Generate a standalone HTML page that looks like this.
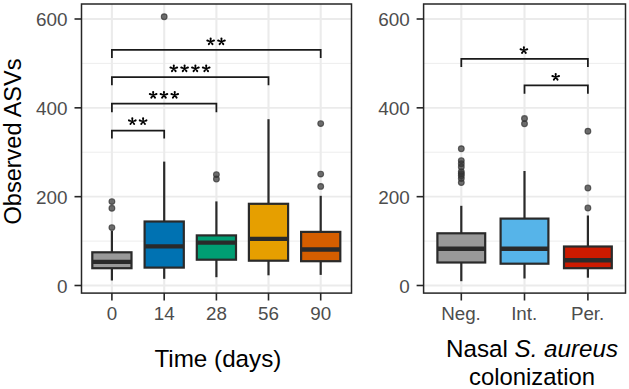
<!DOCTYPE html>
<html><head><meta charset="utf-8"><style>
html,body{margin:0;padding:0;background:#fff;overflow:hidden}
svg{display:block;font-family:"Liberation Sans",sans-serif}
</style></head><body>
<svg width="629" height="389" viewBox="0 0 629 389">
<rect x="0" y="0" width="629" height="389" fill="#fff"/>
<line x1="81.5" x2="351.5" y1="241.08" y2="241.08" stroke="#EBEBEB" stroke-width="0.9"/>
<line x1="81.5" x2="351.5" y1="152.25" y2="152.25" stroke="#EBEBEB" stroke-width="0.9"/>
<line x1="81.5" x2="351.5" y1="63.42" y2="63.42" stroke="#EBEBEB" stroke-width="0.9"/>
<line x1="81.5" x2="351.5" y1="285.50" y2="285.50" stroke="#EBEBEB" stroke-width="1.8"/>
<line x1="81.5" x2="351.5" y1="196.67" y2="196.67" stroke="#EBEBEB" stroke-width="1.8"/>
<line x1="81.5" x2="351.5" y1="107.83" y2="107.83" stroke="#EBEBEB" stroke-width="1.8"/>
<line x1="81.5" x2="351.5" y1="19.00" y2="19.00" stroke="#EBEBEB" stroke-width="1.8"/>
<line x1="111.9" x2="111.9" y1="4.0" y2="293.1" stroke="#EBEBEB" stroke-width="2.1"/>
<line x1="164.2" x2="164.2" y1="4.0" y2="293.1" stroke="#EBEBEB" stroke-width="2.1"/>
<line x1="216.4" x2="216.4" y1="4.0" y2="293.1" stroke="#EBEBEB" stroke-width="2.1"/>
<line x1="268.5" x2="268.5" y1="4.0" y2="293.1" stroke="#EBEBEB" stroke-width="2.1"/>
<line x1="320.7" x2="320.7" y1="4.0" y2="293.1" stroke="#EBEBEB" stroke-width="2.1"/>
<line x1="423.6" x2="625.5" y1="241.08" y2="241.08" stroke="#EBEBEB" stroke-width="0.9"/>
<line x1="423.6" x2="625.5" y1="152.25" y2="152.25" stroke="#EBEBEB" stroke-width="0.9"/>
<line x1="423.6" x2="625.5" y1="63.42" y2="63.42" stroke="#EBEBEB" stroke-width="0.9"/>
<line x1="423.6" x2="625.5" y1="285.50" y2="285.50" stroke="#EBEBEB" stroke-width="1.8"/>
<line x1="423.6" x2="625.5" y1="196.67" y2="196.67" stroke="#EBEBEB" stroke-width="1.8"/>
<line x1="423.6" x2="625.5" y1="107.83" y2="107.83" stroke="#EBEBEB" stroke-width="1.8"/>
<line x1="423.6" x2="625.5" y1="19.00" y2="19.00" stroke="#EBEBEB" stroke-width="1.8"/>
<line x1="461.3" x2="461.3" y1="4.0" y2="293.1" stroke="#EBEBEB" stroke-width="2.1"/>
<line x1="524.5" x2="524.5" y1="4.0" y2="293.1" stroke="#EBEBEB" stroke-width="2.1"/>
<line x1="587.9" x2="587.9" y1="4.0" y2="293.1" stroke="#EBEBEB" stroke-width="2.1"/>
<line x1="111.9" x2="111.9" y1="231.0" y2="252.3" stroke="#2a2a2a" stroke-width="2.2"/>
<line x1="111.9" x2="111.9" y1="268.2" y2="280.5" stroke="#2a2a2a" stroke-width="2.2"/>
<rect x="92.30000000000001" y="252.3" width="39.2" height="15.899999999999977" fill="#999999" stroke="#2a2a2a" stroke-width="2.2"/>
<line x1="92.30000000000001" x2="131.5" y1="261.9" y2="261.9" stroke="#2a2a2a" stroke-width="4.4"/>
<circle cx="111.9" cy="201.6" r="2.85" fill="#333" fill-opacity="0.7" stroke="#333" stroke-opacity="0.72" stroke-width="1.2"/>
<circle cx="111.9" cy="208.3" r="2.85" fill="#333" fill-opacity="0.7" stroke="#333" stroke-opacity="0.72" stroke-width="1.2"/>
<circle cx="111.9" cy="227.6" r="2.85" fill="#333" fill-opacity="0.7" stroke="#333" stroke-opacity="0.72" stroke-width="1.2"/>
<line x1="164.2" x2="164.2" y1="161.6" y2="221.5" stroke="#2a2a2a" stroke-width="2.2"/>
<line x1="164.2" x2="164.2" y1="267.6" y2="278.8" stroke="#2a2a2a" stroke-width="2.2"/>
<rect x="144.6" y="221.5" width="39.2" height="46.10000000000002" fill="#0072B2" stroke="#2a2a2a" stroke-width="2.2"/>
<line x1="144.6" x2="183.79999999999998" y1="246.4" y2="246.4" stroke="#2a2a2a" stroke-width="4.4"/>
<circle cx="164.2" cy="16.7" r="2.85" fill="#333" fill-opacity="0.7" stroke="#333" stroke-opacity="0.72" stroke-width="1.2"/>
<line x1="216.4" x2="216.4" y1="201.4" y2="235.4" stroke="#2a2a2a" stroke-width="2.2"/>
<line x1="216.4" x2="216.4" y1="259.7" y2="277.2" stroke="#2a2a2a" stroke-width="2.2"/>
<rect x="196.8" y="235.4" width="39.2" height="24.299999999999983" fill="#009E73" stroke="#2a2a2a" stroke-width="2.2"/>
<line x1="196.8" x2="236.0" y1="242.6" y2="242.6" stroke="#2a2a2a" stroke-width="4.4"/>
<circle cx="216.4" cy="174.6" r="2.85" fill="#333" fill-opacity="0.7" stroke="#333" stroke-opacity="0.72" stroke-width="1.2"/>
<circle cx="216.4" cy="179.0" r="2.85" fill="#333" fill-opacity="0.7" stroke="#333" stroke-opacity="0.72" stroke-width="1.2"/>
<line x1="268.5" x2="268.5" y1="119.2" y2="203.8" stroke="#2a2a2a" stroke-width="2.2"/>
<line x1="268.5" x2="268.5" y1="260.7" y2="275.3" stroke="#2a2a2a" stroke-width="2.2"/>
<rect x="248.9" y="203.8" width="39.2" height="56.89999999999998" fill="#E69F00" stroke="#2a2a2a" stroke-width="2.2"/>
<line x1="248.9" x2="288.1" y1="238.9" y2="238.9" stroke="#2a2a2a" stroke-width="4.4"/>
<line x1="320.7" x2="320.7" y1="195.8" y2="231.9" stroke="#2a2a2a" stroke-width="2.2"/>
<line x1="320.7" x2="320.7" y1="261.2" y2="274.9" stroke="#2a2a2a" stroke-width="2.2"/>
<rect x="301.09999999999997" y="231.9" width="39.2" height="29.299999999999983" fill="#D55E00" stroke="#2a2a2a" stroke-width="2.2"/>
<line x1="301.09999999999997" x2="340.3" y1="249.5" y2="249.5" stroke="#2a2a2a" stroke-width="4.4"/>
<circle cx="320.7" cy="123.6" r="2.85" fill="#333" fill-opacity="0.7" stroke="#333" stroke-opacity="0.72" stroke-width="1.2"/>
<circle cx="320.7" cy="174.1" r="2.85" fill="#333" fill-opacity="0.7" stroke="#333" stroke-opacity="0.72" stroke-width="1.2"/>
<circle cx="320.7" cy="186.4" r="2.85" fill="#333" fill-opacity="0.7" stroke="#333" stroke-opacity="0.72" stroke-width="1.2"/>
<line x1="461.3" x2="461.3" y1="205.8" y2="233.3" stroke="#2a2a2a" stroke-width="2.2"/>
<line x1="461.3" x2="461.3" y1="262.5" y2="281.2" stroke="#2a2a2a" stroke-width="2.2"/>
<rect x="437.40000000000003" y="233.3" width="47.8" height="29.19999999999999" fill="#999999" stroke="#2a2a2a" stroke-width="2.2"/>
<line x1="437.40000000000003" x2="485.2" y1="248.8" y2="248.8" stroke="#2a2a2a" stroke-width="4.4"/>
<circle cx="461.3" cy="148.7" r="2.85" fill="#333" fill-opacity="0.7" stroke="#333" stroke-opacity="0.72" stroke-width="1.2"/>
<circle cx="461.3" cy="160.6" r="2.85" fill="#333" fill-opacity="0.7" stroke="#333" stroke-opacity="0.72" stroke-width="1.2"/>
<circle cx="461.3" cy="163.8" r="2.85" fill="#333" fill-opacity="0.7" stroke="#333" stroke-opacity="0.72" stroke-width="1.2"/>
<circle cx="461.3" cy="167.0" r="2.85" fill="#333" fill-opacity="0.7" stroke="#333" stroke-opacity="0.72" stroke-width="1.2"/>
<circle cx="461.3" cy="171.8" r="2.85" fill="#333" fill-opacity="0.7" stroke="#333" stroke-opacity="0.72" stroke-width="1.2"/>
<circle cx="461.3" cy="173.8" r="2.85" fill="#333" fill-opacity="0.7" stroke="#333" stroke-opacity="0.72" stroke-width="1.2"/>
<circle cx="461.3" cy="175.8" r="2.85" fill="#333" fill-opacity="0.7" stroke="#333" stroke-opacity="0.72" stroke-width="1.2"/>
<circle cx="461.3" cy="178.6" r="2.85" fill="#333" fill-opacity="0.7" stroke="#333" stroke-opacity="0.72" stroke-width="1.2"/>
<circle cx="461.3" cy="182.6" r="2.85" fill="#333" fill-opacity="0.7" stroke="#333" stroke-opacity="0.72" stroke-width="1.2"/>
<line x1="524.5" x2="524.5" y1="171.0" y2="218.6" stroke="#2a2a2a" stroke-width="2.2"/>
<line x1="524.5" x2="524.5" y1="263.7" y2="278.5" stroke="#2a2a2a" stroke-width="2.2"/>
<rect x="500.6" y="218.6" width="47.8" height="45.099999999999994" fill="#56B4E9" stroke="#2a2a2a" stroke-width="2.2"/>
<line x1="500.6" x2="548.4" y1="248.8" y2="248.8" stroke="#2a2a2a" stroke-width="4.4"/>
<circle cx="524.5" cy="118.5" r="2.85" fill="#333" fill-opacity="0.7" stroke="#333" stroke-opacity="0.72" stroke-width="1.2"/>
<circle cx="524.5" cy="123.7" r="2.85" fill="#333" fill-opacity="0.7" stroke="#333" stroke-opacity="0.72" stroke-width="1.2"/>
<line x1="587.9" x2="587.9" y1="215.5" y2="246.5" stroke="#2a2a2a" stroke-width="2.2"/>
<line x1="587.9" x2="587.9" y1="268.2" y2="277.7" stroke="#2a2a2a" stroke-width="2.2"/>
<rect x="564.0" y="246.5" width="47.8" height="21.69999999999999" fill="#CC1A00" stroke="#2a2a2a" stroke-width="2.2"/>
<line x1="564.0" x2="611.8" y1="260.3" y2="260.3" stroke="#2a2a2a" stroke-width="4.4"/>
<circle cx="587.9" cy="131.2" r="2.85" fill="#333" fill-opacity="0.7" stroke="#333" stroke-opacity="0.72" stroke-width="1.2"/>
<circle cx="587.9" cy="188.0" r="2.85" fill="#333" fill-opacity="0.7" stroke="#333" stroke-opacity="0.72" stroke-width="1.2"/>
<circle cx="587.9" cy="208.0" r="2.85" fill="#333" fill-opacity="0.7" stroke="#333" stroke-opacity="0.72" stroke-width="1.2"/>
<rect x="81.5" y="4.0" width="270.0" height="289.1" fill="none" stroke="#262626" stroke-width="1.5"/>
<line x1="74.5" x2="81.5" y1="285.50" y2="285.50" stroke="#262626" stroke-width="1.6"/>
<line x1="74.5" x2="81.5" y1="196.67" y2="196.67" stroke="#262626" stroke-width="1.6"/>
<line x1="74.5" x2="81.5" y1="107.83" y2="107.83" stroke="#262626" stroke-width="1.6"/>
<line x1="74.5" x2="81.5" y1="19.00" y2="19.00" stroke="#262626" stroke-width="1.6"/>
<rect x="423.6" y="4.0" width="201.89999999999998" height="289.1" fill="none" stroke="#262626" stroke-width="1.5"/>
<line x1="416.6" x2="423.6" y1="285.50" y2="285.50" stroke="#262626" stroke-width="1.6"/>
<line x1="416.6" x2="423.6" y1="196.67" y2="196.67" stroke="#262626" stroke-width="1.6"/>
<line x1="416.6" x2="423.6" y1="107.83" y2="107.83" stroke="#262626" stroke-width="1.6"/>
<line x1="416.6" x2="423.6" y1="19.00" y2="19.00" stroke="#262626" stroke-width="1.6"/>
<line x1="111.9" x2="111.9" y1="293.1" y2="300.5" stroke="#262626" stroke-width="1.6"/>
<line x1="164.2" x2="164.2" y1="293.1" y2="300.5" stroke="#262626" stroke-width="1.6"/>
<line x1="216.4" x2="216.4" y1="293.1" y2="300.5" stroke="#262626" stroke-width="1.6"/>
<line x1="268.5" x2="268.5" y1="293.1" y2="300.5" stroke="#262626" stroke-width="1.6"/>
<line x1="320.7" x2="320.7" y1="293.1" y2="300.5" stroke="#262626" stroke-width="1.6"/>
<line x1="461.3" x2="461.3" y1="293.1" y2="300.5" stroke="#262626" stroke-width="1.6"/>
<line x1="524.5" x2="524.5" y1="293.1" y2="300.5" stroke="#262626" stroke-width="1.6"/>
<line x1="587.9" x2="587.9" y1="293.1" y2="300.5" stroke="#262626" stroke-width="1.6"/>
<path d="M111.9 58.099999999999994 L111.9 49.9 L320.7 49.9 L320.7 58.099999999999994" fill="none" stroke="#1a1a1a" stroke-width="1.75"/>
<path d="M211.10 42.00L211.70 38.55A1.05 1.05 0 0 0 209.60 38.55L210.20 42.00ZM211.08 41.37L207.68 39.60A1.05 1.05 0 0 0 207.02 41.60L210.79 42.22ZM210.51 42.22L214.28 41.60A1.05 1.05 0 0 0 213.62 39.60L210.22 41.37ZM210.47 41.19L207.96 43.58A1.05 1.05 0 0 0 209.64 44.82L211.19 41.73ZM210.11 41.73L211.66 44.82A1.05 1.05 0 0 0 213.34 43.58L210.83 41.19ZM209.75 41.70a0.9 0.9 0 1 0 1.8 0a0.9 0.9 0 1 0 -1.8 0Z" fill="#000"/>
<path d="M221.90 42.00L222.50 38.55A1.05 1.05 0 0 0 220.40 38.55L221.00 42.00ZM221.88 41.37L218.48 39.60A1.05 1.05 0 0 0 217.82 41.60L221.59 42.22ZM221.31 42.22L225.08 41.60A1.05 1.05 0 0 0 224.42 39.60L221.02 41.37ZM221.27 41.19L218.76 43.58A1.05 1.05 0 0 0 220.44 44.82L221.99 41.73ZM220.91 41.73L222.46 44.82A1.05 1.05 0 0 0 224.14 43.58L221.63 41.19ZM220.55 41.70a0.9 0.9 0 1 0 1.8 0a0.9 0.9 0 1 0 -1.8 0Z" fill="#000"/>
<path d="M111.9 85.3 L111.9 77.0 L268.5 77.0 L268.5 85.3" fill="none" stroke="#1a1a1a" stroke-width="1.75"/>
<path d="M174.25 69.00L174.85 65.55A1.05 1.05 0 0 0 172.75 65.55L173.35 69.00ZM174.23 68.37L170.83 66.60A1.05 1.05 0 0 0 170.17 68.60L173.94 69.22ZM173.66 69.22L177.43 68.60A1.05 1.05 0 0 0 176.77 66.60L173.37 68.37ZM173.62 68.19L171.11 70.58A1.05 1.05 0 0 0 172.79 71.82L174.34 68.73ZM173.26 68.73L174.81 71.82A1.05 1.05 0 0 0 176.49 70.58L173.98 68.19ZM172.90 68.70a0.9 0.9 0 1 0 1.8 0a0.9 0.9 0 1 0 -1.8 0Z" fill="#000"/>
<path d="M185.05 69.00L185.65 65.55A1.05 1.05 0 0 0 183.55 65.55L184.15 69.00ZM185.03 68.37L181.63 66.60A1.05 1.05 0 0 0 180.97 68.60L184.74 69.22ZM184.46 69.22L188.23 68.60A1.05 1.05 0 0 0 187.57 66.60L184.17 68.37ZM184.42 68.19L181.91 70.58A1.05 1.05 0 0 0 183.59 71.82L185.14 68.73ZM184.06 68.73L185.61 71.82A1.05 1.05 0 0 0 187.29 70.58L184.78 68.19ZM183.70 68.70a0.9 0.9 0 1 0 1.8 0a0.9 0.9 0 1 0 -1.8 0Z" fill="#000"/>
<path d="M195.85 69.00L196.45 65.55A1.05 1.05 0 0 0 194.35 65.55L194.95 69.00ZM195.83 68.37L192.43 66.60A1.05 1.05 0 0 0 191.77 68.60L195.54 69.22ZM195.26 69.22L199.03 68.60A1.05 1.05 0 0 0 198.37 66.60L194.97 68.37ZM195.22 68.19L192.71 70.58A1.05 1.05 0 0 0 194.39 71.82L195.94 68.73ZM194.86 68.73L196.41 71.82A1.05 1.05 0 0 0 198.09 70.58L195.58 68.19ZM194.50 68.70a0.9 0.9 0 1 0 1.8 0a0.9 0.9 0 1 0 -1.8 0Z" fill="#000"/>
<path d="M206.65 69.00L207.25 65.55A1.05 1.05 0 0 0 205.15 65.55L205.75 69.00ZM206.63 68.37L203.23 66.60A1.05 1.05 0 0 0 202.57 68.60L206.34 69.22ZM206.06 69.22L209.83 68.60A1.05 1.05 0 0 0 209.17 66.60L205.77 68.37ZM206.02 68.19L203.51 70.58A1.05 1.05 0 0 0 205.19 71.82L206.74 68.73ZM205.66 68.73L207.21 71.82A1.05 1.05 0 0 0 208.89 70.58L206.38 68.19ZM205.30 68.70a0.9 0.9 0 1 0 1.8 0a0.9 0.9 0 1 0 -1.8 0Z" fill="#000"/>
<path d="M111.9 112.2 L111.9 103.7 L216.4 103.7 L216.4 112.2" fill="none" stroke="#1a1a1a" stroke-width="1.75"/>
<path d="M153.60 95.50L154.20 92.05A1.05 1.05 0 0 0 152.10 92.05L152.70 95.50ZM153.58 94.87L150.18 93.10A1.05 1.05 0 0 0 149.52 95.10L153.29 95.72ZM153.01 95.72L156.78 95.10A1.05 1.05 0 0 0 156.12 93.10L152.72 94.87ZM152.97 94.69L150.46 97.08A1.05 1.05 0 0 0 152.14 98.32L153.69 95.23ZM152.61 95.23L154.16 98.32A1.05 1.05 0 0 0 155.84 97.08L153.33 94.69ZM152.25 95.20a0.9 0.9 0 1 0 1.8 0a0.9 0.9 0 1 0 -1.8 0Z" fill="#000"/>
<path d="M164.40 95.50L165.00 92.05A1.05 1.05 0 0 0 162.90 92.05L163.50 95.50ZM164.38 94.87L160.98 93.10A1.05 1.05 0 0 0 160.32 95.10L164.09 95.72ZM163.81 95.72L167.58 95.10A1.05 1.05 0 0 0 166.92 93.10L163.52 94.87ZM163.77 94.69L161.26 97.08A1.05 1.05 0 0 0 162.94 98.32L164.49 95.23ZM163.41 95.23L164.96 98.32A1.05 1.05 0 0 0 166.64 97.08L164.13 94.69ZM163.05 95.20a0.9 0.9 0 1 0 1.8 0a0.9 0.9 0 1 0 -1.8 0Z" fill="#000"/>
<path d="M175.20 95.50L175.80 92.05A1.05 1.05 0 0 0 173.70 92.05L174.30 95.50ZM175.18 94.87L171.78 93.10A1.05 1.05 0 0 0 171.12 95.10L174.89 95.72ZM174.61 95.72L178.38 95.10A1.05 1.05 0 0 0 177.72 93.10L174.32 94.87ZM174.57 94.69L172.06 97.08A1.05 1.05 0 0 0 173.74 98.32L175.29 95.23ZM174.21 95.23L175.76 98.32A1.05 1.05 0 0 0 177.44 97.08L174.93 94.69ZM173.85 95.20a0.9 0.9 0 1 0 1.8 0a0.9 0.9 0 1 0 -1.8 0Z" fill="#000"/>
<path d="M111.9 138.5 L111.9 130.5 L164.2 130.5 L164.2 138.5" fill="none" stroke="#1a1a1a" stroke-width="1.75"/>
<path d="M132.75 121.80L133.35 118.35A1.05 1.05 0 0 0 131.25 118.35L131.85 121.80ZM132.73 121.17L129.33 119.40A1.05 1.05 0 0 0 128.67 121.40L132.44 122.02ZM132.16 122.02L135.93 121.40A1.05 1.05 0 0 0 135.27 119.40L131.87 121.17ZM132.12 120.99L129.61 123.38A1.05 1.05 0 0 0 131.29 124.62L132.84 121.53ZM131.76 121.53L133.31 124.62A1.05 1.05 0 0 0 134.99 123.38L132.48 120.99ZM131.40 121.50a0.9 0.9 0 1 0 1.8 0a0.9 0.9 0 1 0 -1.8 0Z" fill="#000"/>
<path d="M143.55 121.80L144.15 118.35A1.05 1.05 0 0 0 142.05 118.35L142.65 121.80ZM143.53 121.17L140.13 119.40A1.05 1.05 0 0 0 139.47 121.40L143.24 122.02ZM142.96 122.02L146.73 121.40A1.05 1.05 0 0 0 146.07 119.40L142.67 121.17ZM142.92 120.99L140.41 123.38A1.05 1.05 0 0 0 142.09 124.62L143.64 121.53ZM142.56 121.53L144.11 124.62A1.05 1.05 0 0 0 145.79 123.38L143.28 120.99ZM142.20 121.50a0.9 0.9 0 1 0 1.8 0a0.9 0.9 0 1 0 -1.8 0Z" fill="#000"/>
<path d="M461.3 67.1 L461.3 58.8 L587.9 58.8 L587.9 67.1" fill="none" stroke="#1a1a1a" stroke-width="1.75"/>
<path d="M524.35 50.70L524.95 47.25A1.05 1.05 0 0 0 522.85 47.25L523.45 50.70ZM524.33 50.07L520.93 48.30A1.05 1.05 0 0 0 520.27 50.30L524.04 50.92ZM523.76 50.92L527.53 50.30A1.05 1.05 0 0 0 526.87 48.30L523.47 50.07ZM523.72 49.89L521.21 52.28A1.05 1.05 0 0 0 522.89 53.52L524.44 50.43ZM523.36 50.43L524.91 53.52A1.05 1.05 0 0 0 526.59 52.28L524.08 49.89ZM523.00 50.40a0.9 0.9 0 1 0 1.8 0a0.9 0.9 0 1 0 -1.8 0Z" fill="#000"/>
<path d="M524.5 93.80000000000001 L524.5 85.4 L587.9 85.4 L587.9 93.80000000000001" fill="none" stroke="#1a1a1a" stroke-width="1.75"/>
<path d="M556.15 77.50L556.75 74.05A1.05 1.05 0 0 0 554.65 74.05L555.25 77.50ZM556.13 76.87L552.73 75.10A1.05 1.05 0 0 0 552.07 77.10L555.84 77.72ZM555.56 77.72L559.33 77.10A1.05 1.05 0 0 0 558.67 75.10L555.27 76.87ZM555.52 76.69L553.01 79.08A1.05 1.05 0 0 0 554.69 80.32L556.24 77.23ZM555.16 77.23L556.71 80.32A1.05 1.05 0 0 0 558.39 79.08L555.88 76.69ZM554.80 77.20a0.9 0.9 0 1 0 1.8 0a0.9 0.9 0 1 0 -1.8 0Z" fill="#000"/>
<text x="67.6" y="292.70" text-anchor="end" font-size="18.9" fill="#4D4D4D">0</text>
<text x="409.7" y="292.70" text-anchor="end" font-size="18.9" fill="#4D4D4D">0</text>
<text x="67.6" y="203.87" text-anchor="end" font-size="18.9" fill="#4D4D4D">200</text>
<text x="409.7" y="203.87" text-anchor="end" font-size="18.9" fill="#4D4D4D">200</text>
<text x="67.6" y="115.03" text-anchor="end" font-size="18.9" fill="#4D4D4D">400</text>
<text x="409.7" y="115.03" text-anchor="end" font-size="18.9" fill="#4D4D4D">400</text>
<text x="67.6" y="26.20" text-anchor="end" font-size="18.9" fill="#4D4D4D">600</text>
<text x="409.7" y="26.20" text-anchor="end" font-size="18.9" fill="#4D4D4D">600</text>
<text x="111.9" y="320.0" text-anchor="middle" font-size="18.8" fill="#4D4D4D">0</text>
<text x="164.2" y="320.0" text-anchor="middle" font-size="18.8" fill="#4D4D4D">14</text>
<text x="216.4" y="320.0" text-anchor="middle" font-size="18.8" fill="#4D4D4D">28</text>
<text x="268.5" y="320.0" text-anchor="middle" font-size="18.8" fill="#4D4D4D">56</text>
<text x="320.7" y="320.0" text-anchor="middle" font-size="18.8" fill="#4D4D4D">90</text>
<text x="461.0" y="320.0" text-anchor="middle" font-size="18.8" fill="#4D4D4D">Neg.</text>
<text x="524.2" y="320.0" text-anchor="middle" font-size="18.8" fill="#4D4D4D">Int.</text>
<text x="587.6" y="320.0" text-anchor="middle" font-size="18.8" fill="#4D4D4D">Per.</text>
<text x="217.9" y="366.7" text-anchor="middle" font-size="23.7" fill="#000" textLength="127" lengthAdjust="spacingAndGlyphs">Time (days)</text>
<text x="532" y="356.8" text-anchor="middle" font-size="23.7" fill="#000" textLength="172" lengthAdjust="spacingAndGlyphs">Nasal <tspan font-style="italic">S. aureus</tspan></text>
<text x="532" y="384.7" text-anchor="middle" font-size="23.7" fill="#000" textLength="126" lengthAdjust="spacingAndGlyphs">colonization</text>
<text transform="translate(20.5,141.5) rotate(-90)" x="0" y="0" text-anchor="middle" font-size="23.5" fill="#000">Observed ASVs</text>
</svg>
</body></html>
